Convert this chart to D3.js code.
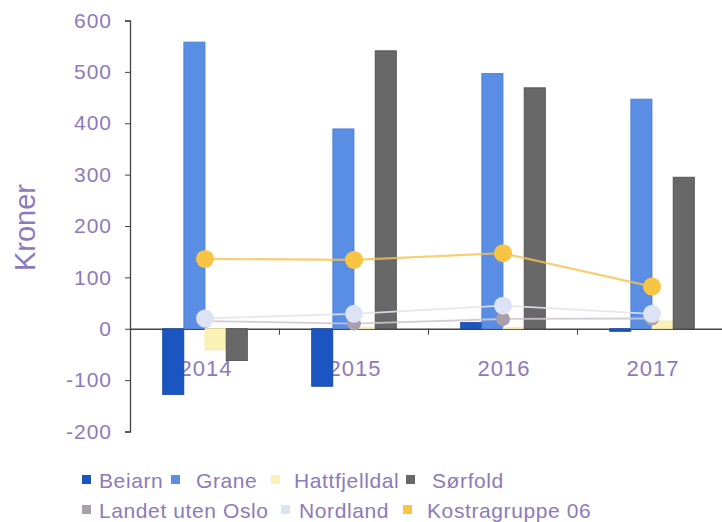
<!DOCTYPE html>
<html><head><meta charset="utf-8">
<script src="https://cdn.jsdelivr.net/npm/d3@7"></script>
<style>body{margin:0;background:#fff}svg{display:block}</style>
</head><body>
<script>
const years = ["2014","2015","2016","2017"];
const barSeries = ["Beiarn","Grane","Hattfjelldal","Sørfold"];
const beiarn = [-128, -112, 12, -5];
const grane = [558, 389, 497, 447];
const hattfjelldal = [-41, 2, 2, 15];
const sorfold = [-62, 541, 469, 295];
const lineSeries = ["Landet uten Oslo","Nordland","Kostragruppe 06"];
const landet = [15, 10, 19, 20];
const nordland = [20, 29, 45, 29];
const kostra = [136, 134, 147, 82];
const yTicks = [-200,-100,0,100,200,300,400,500,600];

const barValues = [beiarn, grane, hattfjelldal, sorfold];
const lineValues = [landet, nordland, kostra];
const barColors = ["#1b55c2","#5a8ee4","#fbf1b6","#686868"];
const barStroke = ["#14449e","#4a7dd4","#f3e6a0","#4a4a4a"];
const lineColors = ["#a99fab","#dde3f5","#f7c443"];
const lineStrokes = ["#cfc7cf","#e2e4ea","#f5c250"];
const txt = "#8d7aba";

const W = 722, H = 522;
const svg = d3.select("body").append("svg").attr("width", W).attr("height", H)
  .style("font-family", "'Liberation Sans', Arial, sans-serif");

const x0 = d3.scaleBand().domain(years).range([130.5, 726.5]).padding(0);
const x1 = d3.scaleBand().domain(barSeries).range([0, x0.bandwidth()]).paddingInner(0).paddingOuter(1.52);
const y = d3.scaleLinear().domain([-200, 600]).range([431.5, 20.5]);

// y axis
const yAxis = svg.append("g").attr("transform", "translate(130,0)")
  .call(d3.axisLeft(y).tickValues(yTicks).tickSize(5).tickPadding(13).tickFormat(d => String(d)));
yAxis.select(".domain").attr("stroke", "#444").attr("stroke-width", 1.3);
yAxis.selectAll(".tick line").attr("stroke", "#444");
yAxis.selectAll("text").attr("fill", txt).style("font-size", "21px").style("letter-spacing", "1px");

// y title
svg.append("text").attr("transform", `translate(35,${(183+272)/2}) rotate(-90)`)
  .attr("text-anchor", "middle").attr("fill", txt).style("font-size", "29px").text("Kroner");

// category labels (drawn under bars)
svg.append("g").selectAll("text").data(years).join("text")
  .attr("x", d => x0(d) + x0.bandwidth()/2 + 1).attr("y", 376)
  .attr("text-anchor", "middle").attr("fill", txt)
  .style("font-size", "22px").style("letter-spacing", "1px").text(d => d);

// x axis line at zero
const xAxis = svg.append("g").attr("transform", `translate(0,${y(0)})`)
  .call(d3.axisBottom(x0).tickSize(0).tickFormat(""));
xAxis.select(".domain").attr("stroke", "#444").attr("stroke-width", 1.3);
svg.append("g").selectAll("line").data(years.slice(1)).join("line")
  .attr("x1", d => x0(d)).attr("x2", d => x0(d))
  .attr("y1", y(0)).attr("y2", y(0) + 6).attr("stroke", "#444");

// bars
const gb = svg.append("g");
barSeries.forEach((s, si) => {
  gb.append("g").selectAll("rect").data(years).join("rect")
    .attr("x", d => x0(d) + x1(s))
    .attr("width", x1.bandwidth())
    .attr("y", (d, i) => y(Math.max(0, barValues[si][i])))
    .attr("height", (d, i) => Math.abs(y(barValues[si][i]) - y(0)))
    .attr("fill", barColors[si]).attr("stroke", barStroke[si]).attr("stroke-width", 0.8);
});

// lines
const cx = d => x0(d) + x0.bandwidth()/2;
lineSeries.forEach((s, si) => {
  const line = d3.line().x((d, i) => cx(years[i])).y(d => y(d));
  svg.append("path").datum(lineValues[si]).attr("d", line)
    .attr("fill", "none").attr("stroke", lineStrokes[si])
    .attr("stroke-width", si === 2 ? 2.2 : 1.8).attr("opacity", si === 2 ? 0.8 : 0.9);
});
lineSeries.forEach((s, si) => {
  svg.append("g").selectAll("circle").data(lineValues[si]).join("circle")
    .attr("cx", (d, i) => cx(years[i])).attr("cy", d => y(d))
    .attr("r", si === 0 ? 7 : 9).attr("fill", lineColors[si]);
});

// legend
const legend = [
  {name: "Beiarn", c: barColors[0], sx: 82, tx: 99, y: 480},
  {name: "Grane", c: barColors[1], sx: 171, tx: 196, y: 480},
  {name: "Hattfjelldal", c: barColors[2], sx: 271, tx: 294, y: 480},
  {name: "Sørfold", c: barColors[3], sx: 406, tx: 432, y: 480},
  {name: "Landet uten Oslo", c: lineColors[0], sx: 82, tx: 99, y: 510},
  {name: "Nordland", c: lineColors[1], sx: 281, tx: 299, y: 510},
  {name: "Kostragruppe 06", c: lineColors[2], sx: 403, tx: 427, y: 510}
];
const lg = svg.append("g").selectAll("g").data(legend).join("g");
lg.append("rect").attr("x", d => d.sx).attr("y", d => d.y - 5).attr("width", 9).attr("height", 9).attr("fill", d => d.c);
lg.append("text").attr("x", d => d.tx).attr("y", d => d.y).attr("dy", "0.36em")
  .attr("fill", txt).style("font-size", "21px").style("letter-spacing", "0.6px").text(d => d.name);
</script>
</body></html>
